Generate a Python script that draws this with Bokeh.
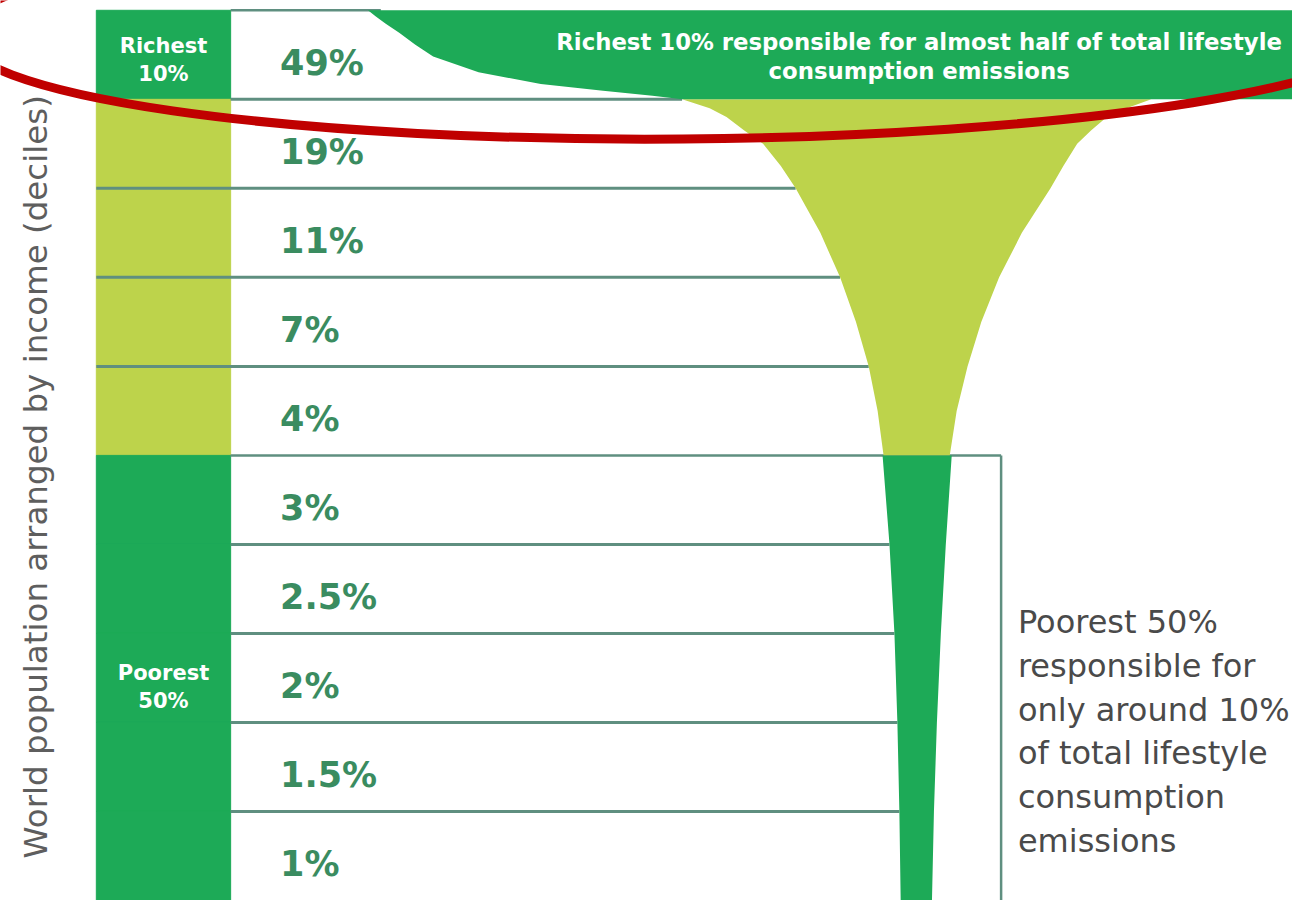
from bokeh.plotting import figure
from bokeh.models import Range1d, ColumnDataSource
from bokeh.embed import file_html
from bokeh.resources import INLINE
from bokeh.core.properties import value

# ---------------- data ----------------
share_labels = ["49%", "19%", "11%", "7%", "4%", "3%", "2.5%", "2%", "1.5%", "1%"]
decile_rank = [10, 9, 8, 7, 6, 5, 4, 3, 2, 1]
decile_group = ["richest", "middle", "middle", "middle", "middle",
                "poorest", "poorest", "poorest", "poorest", "poorest"]

# funnel outline (y in decile rows, x in picture px)
funnel_y_upper = [9.0, 8.9, 8.8, 8.65, 8.5, 8.25, 8.0, 7.5, 7.0, 6.5, 6.0, 5.5, 5.0]
funnel_left_upper = [690, 718, 735, 753, 772, 790, 805, 830, 850, 866, 879, 888, 894]
funnel_right_upper = [1165, 1140, 1120, 1104, 1090, 1076, 1063, 1034, 1011, 993, 979, 968, 961]
funnel_y_lower = [5.0, 4.0, 3.0, 2.0, 1.0, 0.0]
funnel_left_lower = [893, 900, 905, 908, 910, 912]
funnel_right_lower = [963, 957, 952, 948, 945, 942]

# top band lower-left curve
band_curve_y = [10.0, 9.93, 9.85, 9.746, 9.614, 9.481, 9.305, 9.172, 9.095, 9.040, 9.0]
band_curve_x = [372, 380, 390, 404, 420, 438, 484, 547, 610, 660, 690]

y_axis_title = "World population arranged by income (deciles)"
richest_label = "Richest\n10%"
poorest_label = "Poorest\n50%"
top_note = "Richest 10% responsible for almost half of total lifestyle\nconsumption emissions"
side_note = "Poorest 50%\nresponsible for\nonly around 10%\nof total lifestyle\nconsumption\nemissions"

# ---------------- styles ----------------
DARK = "#1DAA57"
LIME = "#BDD34B"
LINE = "#5F8F80"
PCT = "#3A8C60"
group_color = {"richest": DARK, "middle": LIME, "poorest": DARK}

p = figure(width=1292, height=900, x_range=Range1d(0, 1308), y_range=Range1d(0.0, 10.11),
           output_backend="svg", toolbar_location=None, min_border=0,
           x_axis_location=None, y_axis_location=None)
p.grid.visible = False
p.outline_line_color = None
p.background_fill_color = "white"

COL_L, COL_R = 97, 233
BOX_R = 1013

# column strips
src = ColumnDataSource(dict(
    top=decile_rank,
    bottom=[r - 1 for r in decile_rank],
    color=[group_color[g] for g in decile_group],
    label=share_labels,
    ymid=[r - 0.5 for r in decile_rank],
))
p.quad(left=COL_L, right=COL_R, top="top", bottom="bottom", fill_color="color",
       line_color="color", line_width=1, source=src)

# row separators
fl = dict(zip(funnel_y_upper, funnel_left_upper))
fl.update({k: v for k, v in zip(funnel_y_lower, funnel_left_lower) if k != 5.0})
seg_y, seg_x0, seg_x1 = [], [], []
for b in [9, 8, 7, 6, 4, 3, 2, 1]:
    seg_y.append(b)
    seg_x0.append(COL_L if b in (8, 7, 6) else COL_R)
    seg_x1.append(fl[float(b)])
p.segment(x0=seg_x0, y0=seg_y, x1=seg_x1, y1=seg_y, line_color=LINE, line_width=3)
# table top border and poorest box
p.segment(x0=[COL_R, COL_R, BOX_R], y0=[10, 5, 5], x1=[385, BOX_R, BOX_R], y1=[10, 5, -1],
          line_color=LINE, line_width=2.5)

# funnel
p.patch(x=funnel_left_upper + funnel_right_upper[::-1],
        y=funnel_y_upper + funnel_y_upper[::-1], fill_color=LIME, line_color=None)
p.patch(x=funnel_left_lower + funnel_right_lower[::-1],
        y=[5.0, 4.0, 3.0, 2.0, 1.0, -0.5] + [-0.5, 1.0, 2.0, 3.0, 4.0, 5.0],
        fill_color=DARK, line_color=None)

# top band
p.patch(x=band_curve_x + [1320, 1320], y=band_curve_y + [9.0, 10.0],
        fill_color=DARK, line_color=None)

# percentage labels
p.text(x=283, y="ymid", text="label", source=src, text_font=value("DejaVu Sans"),
       text_font_style="bold", text_font_size="35px", text_color=PCT,
       text_align="left", text_baseline="middle", y_offset=8)

# group labels in column
p.text(x=[165, 165], y=[9.44, 2.4], text=[richest_label, poorest_label],
       text_font=value("DejaVu Sans"), text_font_style="bold", text_font_size="21px",
       text_color="white", text_align="center", text_baseline="middle", text_line_height=1.15)

# band note
p.text(x=[930], y=[9.48], text=[top_note], text_font=value("DejaVu Sans"),
       text_font_style="bold", text_font_size="22.8px", text_color="white",
       text_align="center", text_baseline="middle", text_line_height=1.12)

# side note
p.text(x=[1030], y=[1.898], text=[side_note], text_font=value("DejaVu Sans"),
       text_font_size="32px", text_color="#4a4a4a", text_align="left",
       text_baseline="middle", text_line_height=1.155)

# y title
p.text(x=[36], y=[4.76], text=[y_axis_title], angle=1.5708, text_font=value("DejaVu Sans"),
       text_font_size="32.5px", text_color="#5e5e5e", text_align="center", text_baseline="middle")

# red highlight ellipse
p.ellipse(x=[690], y=[9.79], width=[1442], height=[220], width_units="screen",
          height_units="screen", angle=0.008, fill_color=None, line_color="#C00000", line_width=9)

open("out.html", "w").write(file_html(p, INLINE))
